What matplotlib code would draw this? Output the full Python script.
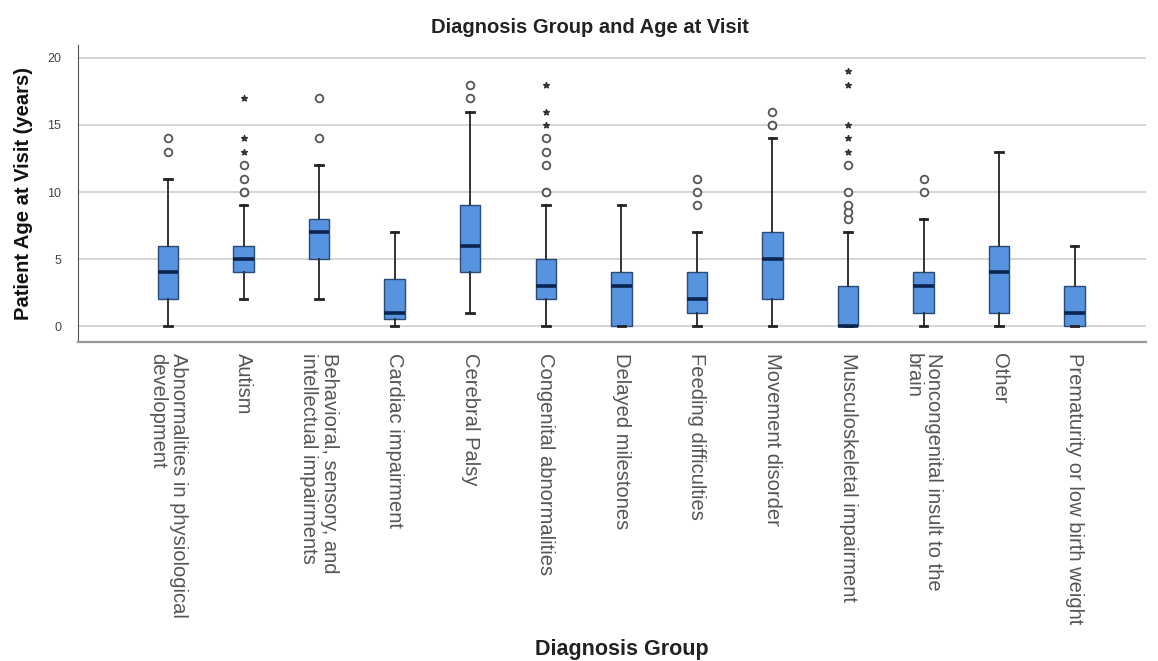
import matplotlib.pyplot as plt
import numpy as np

plt.rcParams['font.family'] = ['Liberation Sans', 'DejaVu Sans']

# Diagnosis groups (x axis) and box-plot summaries (years)
groups = [
    "Abnormalities in physiological\ndevelopment",
    "Autism",
    "Behavioral, sensory, and\nintellectual impairments",
    "Cardiac impairment",
    "Cerebral Palsy",
    "Congenital abnormalities",
    "Delayed milestones",
    "Feeding difficulties",
    "Movement disorder",
    "Musculoskeletal impairment",
    "Noncongenital insult to the\nbrain",
    "Other",
    "Prematurity or low birth weight",
]
whisker_lo = [0, 2, 2, 0, 1, 0, 0, 0, 0, 0, 0, 0, 0]
q1 = [2, 4, 5, 0.5, 4, 2, 0, 1, 2, 0, 1, 1, 0]
medians = [4, 5, 7, 1, 6, 3, 3, 2, 5, 0, 3, 4, 1]
q3 = [6, 6, 8, 3.5, 9, 5, 4, 4, 7, 3, 4, 6, 3]
whisker_hi = [11, 9, 12, 7, 16, 9, 9, 7, 14, 7, 8, 13, 6]
# circles = outliers, stars = extreme values (SPSS style)
outliers = [[13, 14], [10, 10, 11, 12], [14, 17], [], [17, 18],
            [10, 10, 12, 13, 14], [], [9, 10, 11], [15, 15, 16],
            [8, 8.5, 9, 10, 12], [10, 11], [], []]
extremes = [[], [13, 14, 17], [], [], [], [15, 16, 18], [], [], [],
            [13, 14, 15, 18, 19], [], [], []]
yticks = [0, 5, 10, 15, 20]

box_fill = '#5793de'
box_edge = '#2a4a78'
median_col = '#0c2550'

fig = plt.figure(figsize=(11.58, 6.61), dpi=100)
ax = fig.add_axes([0.0674, 0.483, 0.922, 0.449])

stats = []
for i in range(len(groups)):
    stats.append(dict(whislo=whisker_lo[i], q1=q1[i], med=medians[i], q3=q3[i],
                      whishi=whisker_hi[i], fliers=outliers[i], label=groups[i]))

pos = np.arange(1, len(groups) + 1)
ax.bxp(stats, positions=pos, widths=0.27, patch_artist=True, showfliers=True,
       boxprops=dict(facecolor=box_fill, edgecolor=box_edge, linewidth=1.0),
       medianprops=dict(color=median_col, linewidth=2.6),
       whiskerprops=dict(color='#333333', linewidth=1.4),
       capprops=dict(color='#222222', linewidth=2.0),
       capwidths=0.1,
       flierprops=dict(marker='o', markersize=5.5, markerfacecolor='white',
                       markeredgecolor='#555555', markeredgewidth=1.3),
       zorder=3)

for p, ext in zip(pos, extremes):
    if ext:
        ax.scatter([p] * len(ext), ext, marker='*', s=18, color='#333333', zorder=4)

ax.set_xlim(-0.19, 13.94)
ax.set_ylim(-1.17, 20.97)
ax.set_yticks(yticks)
ax.set_yticklabels([str(t) for t in yticks], fontsize=9, color='#444444')
ax.grid(axis='y', color='#d2d2d2', linewidth=1.3, zorder=0)
ax.set_axisbelow(True)
ax.tick_params(axis='y', length=0, pad=12)
ax.tick_params(axis='x', length=0, pad=8)
ax.set_xticks(pos)
ax.set_xticklabels(groups, rotation=270, fontsize=14.5, color='#555555',
                   ha='center', va='top', multialignment='left', linespacing=1.1)

for side in ['top', 'right']:
    ax.spines[side].set_visible(False)
ax.spines['left'].set_color('#555555')
ax.spines['bottom'].set_color('#999999')
ax.spines['bottom'].set_linewidth(1.6)

ax.set_ylabel('Patient Age at Visit (years)', fontsize=14.5, fontweight='bold',
              labelpad=10, color='#111111')
fig.text(0.509, 0.958, 'Diagnosis Group and Age at Visit', ha='center', va='center',
         fontsize=14.5, fontweight='bold', color='#222222')
fig.text(0.537, 0.018, 'Diagnosis Group', ha='center', va='center',
         fontsize=15.5, fontweight='bold', color='#222222')

fig.savefig('out.png', dpi=100)
